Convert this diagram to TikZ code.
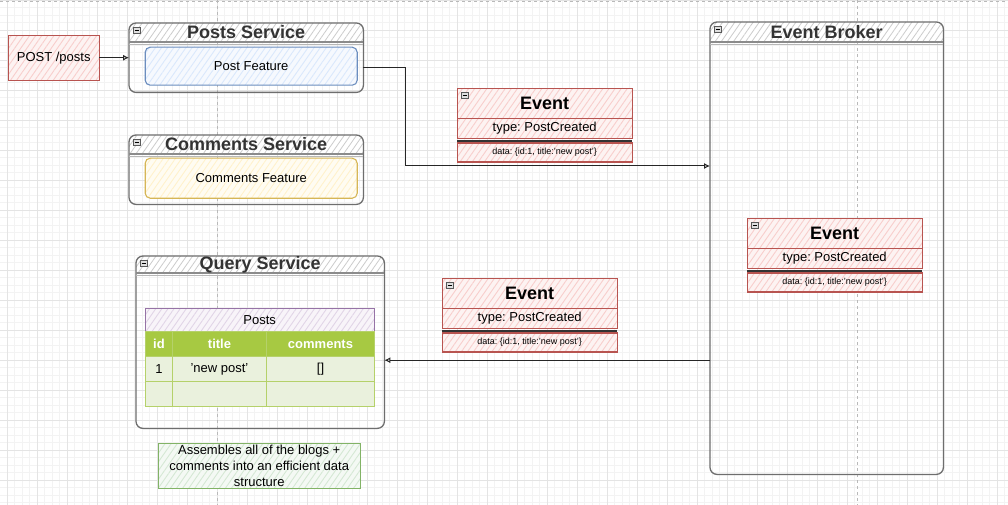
\documentclass[tikz,border=0pt]{standalone}
\usepackage{fontspec}
\setmainfont{Liberation Sans}
\frenchspacing
\usetikzlibrary{patterns.meta,arrows.meta}
\definecolor{rfill}{HTML}{F8CECC}
\definecolor{rline}{HTML}{B85450}
\definecolor{bfill}{HTML}{DAE8FC}
\definecolor{bline}{HTML}{6C8EBF}
\definecolor{yfill}{HTML}{FFF2CC}
\definecolor{yline}{HTML}{D6B656}
\definecolor{gfill}{HTML}{D5E8D4}
\definecolor{gline}{HTML}{82B366}
\definecolor{pfill}{HTML}{E1D5E7}
\definecolor{pline}{HTML}{9673A6}
\definecolor{thead}{HTML}{A7C942}
\definecolor{trow}{HTML}{EAF1DD}
\definecolor{tline}{HTML}{B5D16A}
\definecolor{cline}{HTML}{6E6E6E}
\definecolor{ttext}{HTML}{333333}
\definecolor{gridmin}{HTML}{F3F3F3}
\definecolor{gridmaj}{HTML}{E4E4E4}
\tikzset{
  hatch/.style 2 args={draw=none, fill=#1!25,
    postaction={pattern={Lines[angle=55,distance=5pt,line width=0.9pt]}, pattern color=#1},
    postaction={draw=#2, line width=1.1pt}},
  cont/.style={draw=cline, line width=1.3pt, rounded corners=7pt},
  hdrfill/.style={fill=white, postaction={pattern={Lines[angle=55,distance=5pt,line width=0.8pt]}, pattern color=gray!40}},
  hdrline/.style={draw=cline!80, line width=1.2pt},
  hdrtext/.style={text=ttext, font=\fontsize{18}{20}\selectfont\bfseries, inner sep=0pt},
  evhead/.style={hatch={rfill}{rline}, minimum width=175pt, minimum height=30pt, inner sep=0pt, font=\fontsize{18}{20}\selectfont\bfseries},
  evrow/.style={hatch={rfill}{rline}, minimum width=175pt, minimum height=20pt, inner sep=0pt, font=\fontsize{13}{15}\selectfont},
  evdata/.style={hatch={rfill}{rline}, minimum width=175pt, minimum height=19pt, inner sep=0pt, font=\fontsize{9}{11}\selectfont},
  icon/.style={draw=gray!70!black, fill=gray!25, line width=0.6pt},
  conn/.style={draw=black!85, line width=1pt, -{Latex[length=6pt,width=6pt,open]}},
  thc/.style={fill=thead, draw=tline, line width=1pt, minimum height=25pt, inner sep=0pt, text=white, font=\fontsize{13}{15}\selectfont\bfseries, anchor=north west},
  tdc/.style={fill=trow, draw=tline, line width=1pt, minimum height=25pt, inner sep=0pt, font=\fontsize{13}{15}\selectfont, anchor=north west},
}
\newcommand\mkicon[2]{%
  \draw[icon] (#1,#2) rectangle ++(7,6);
  \draw[line width=0.7pt] (#1+1.5,#2+3) -- ++(4,0);}
\newcommand\mkcontainer[7]{%
  \node[minimum width=#4pt, minimum height=#5pt, inner sep=0pt, anchor=north west] (#1) at (#2,#3) {};
  \begin{scope}
    \clip[rounded corners=7pt] (#1.north west) rectangle (#1.south east);
    \path[hdrfill] (#1.north west) rectangle ([yshift=-#7pt]#1.north east);
  \end{scope}
  \draw[cont] (#1.north west) rectangle (#1.south east);
  \draw[hdrline] ([yshift=-#7pt]#1.north west) -- ([yshift=-#7pt]#1.north east);
  \draw[cline!50, line width=0.8pt] ([yshift=-#7pt-2pt]#1.north west) -- ([yshift=-#7pt-2pt]#1.north east);
  \node[hdrtext] (#1t) at ([yshift=-#7*0.5pt+0pt]#1.north) {#6};
  \mkicon{#2+4}{#3+4}}
\newcommand\mkevent[3]{%
  \node[evhead, anchor=north west] (#1h) at (#2,#3) {Event};
  \node[evrow, anchor=north] (#1t) at (#1h.south) {type: PostCreated};
  \node[evdata, anchor=north] (#1d) at ([yshift=-4pt]#1t.south) {data: \{id:1, title:'new post'\}};
  \draw[black!80, line width=0.9pt] ([yshift=-1.5pt]#1t.south west) -- ([yshift=-1.5pt]#1t.south east);
  \draw[black!80, line width=0.9pt] ([yshift=-3pt]#1t.south west) -- ([yshift=-3pt]#1t.south east);
  \mkicon{#2+4}{#3+4}}
\begin{document}
\begin{tikzpicture}[x=1pt,y=-1pt]
\useasboundingbox (0,0) rectangle (1008,505);
\fill[white] (0,0) rectangle (1008,505);
% grid
\foreach \k in {0,...,135} \draw[gridmin, line width=0.6pt] ({-0.5+7.5*\k},0) -- ++(0,505);
\foreach \k in {0,...,67} \draw[gridmin, line width=0.6pt] (0,{7.5*\k}) -- ++(1008,0);
\foreach \k in {0,...,33} \draw[gridmaj, line width=0.8pt] ({7+30*\k},0) -- ++(0,505);
\foreach \k in {0,...,16} \draw[gridmaj, line width=0.8pt] (0,{30*\k}) -- ++(1008,0);
\draw[gray!55, dashed, line width=0.7pt] (217,0) -- (217,505);
\draw[gray!55, dashed, line width=0.7pt] (857,0) -- (857,505);
\draw[gray!55, dashed, line width=0.7pt] (0,1) -- (1008,1);

% containers
\mkcontainer{posts}{129}{23}{234}{69}{Posts Service}{19}
\node[hatch={bfill}{bline}, rounded corners=5pt, minimum width=212pt, minimum height=38pt, inner sep=0pt, anchor=north west, font=\fontsize{13}{15}\selectfont] (pf) at (145,47) {Post Feature};
\mkcontainer{comments}{129}{135}{234}{69}{Comments Service}{19}
\node[hatch={yfill}{yline}, rounded corners=5pt, minimum width=212pt, minimum height=40pt, inner sep=0pt, anchor=north west, font=\fontsize{13}{15}\selectfont] (cf) at (145,158) {Comments Feature};
\mkcontainer{query}{136}{256}{248}{172}{Query Service}{17}
\mkcontainer{broker}{710}{22}{233}{452}{Event Broker}{20}

% request
\node[hatch={rfill}{rline}, minimum width=91pt, minimum height=45pt, inner sep=0pt, anchor=north west, font=\fontsize{13}{15}\selectfont] (req) at (8,35) {POST /posts};

% table
\node[hatch={pfill}{pline}, minimum width=229pt, minimum height=23pt, inner sep=0pt, anchor=north west, font=\fontsize{13}{15}\selectfont] (tt) at (145,308) {Posts};
\node[thc, minimum width=27pt] (h1) at (145,331) {id};
\node[thc, minimum width=94pt] (h2) at (172,331) {title};
\node[thc, minimum width=108pt] (h3) at (266,331) {comments};
\node[tdc, minimum width=27pt] (a1) at (145,356) {1};
\node[tdc, minimum width=94pt] (a2) at (172,356) {'new post'};
\node[tdc, minimum width=108pt] (a3) at (266,356) {[]};
\node[tdc, minimum width=27pt] (b1) at (145,381) {};
\node[tdc, minimum width=94pt] (b2) at (172,381) {};
\node[tdc, minimum width=108pt] (b3) at (266,381) {};

% events
\mkevent{ea}{457}{88}
\mkevent{eb}{747}{218}
\mkevent{ec}{442}{278}

% note
\node[hatch={gfill}{gline}, minimum width=202pt, minimum height=45pt, inner sep=0pt, anchor=north west, align=center, font=\fontsize{13}{16}\selectfont] (note) at (158,443) {Assembles all of the blogs +\\comments into an efficient data\\structure};

% connectors
\coordinate (bend) at (405,166);
\coordinate (qin) at ([yshift=-18pt]query.east);
\draw[conn] (req) -- (req -| posts.west);
\draw[conn] ([yshift=-10pt]posts.east) -| (bend) -- (bend -| broker.west);
\draw[conn] (qin -| broker.west) -- (qin);
\end{tikzpicture}
\end{document}
